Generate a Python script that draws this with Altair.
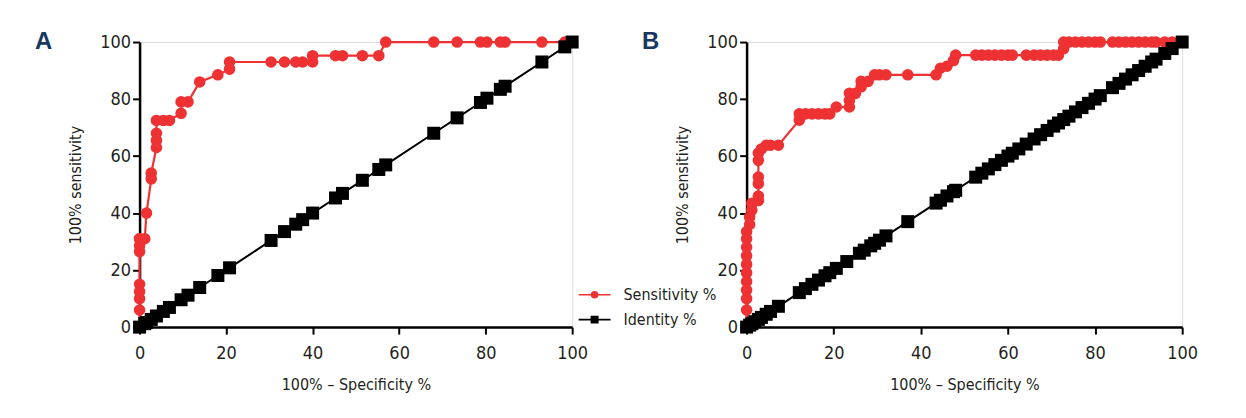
import altair as alt
import pandas as pd

# ---------------- data ----------------
SERIES = ["Sensitivity %", "Identity %"]

# Panel A : ROC (x = 100% - specificity %, y = sensitivity %)
a_spec = [0, 0, 0, 0, 0, 0, 0, 0, 0, 1.2, 1.6, 2.7, 2.7, 3.9, 3.9, 3.9, 3.9,
          5.5, 6.9, 9.6, 9.6, 11.2, 13.9, 18.1, 20.8, 20.8, 30.4, 33.5, 36.1,
          37.7, 40.0, 40.0, 45.3, 46.9, 51.5, 55.3, 56.9, 68.0, 73.4, 78.8,
          80.3, 83.4, 84.5, 93.0, 98.3, 100]
a_sens = [0, 6, 10, 12.5, 15, 26.5, 28.5, 31, 31, 31, 40, 52, 54, 63, 65.5,
          68, 72.5, 72.5, 72.5, 75, 79, 79, 86, 88.5, 90.5, 93, 93, 93, 93,
          93, 93, 95.2, 95.2, 95.2, 95.2, 95.2, 100, 100, 100, 100, 100, 100,
          100, 100, 100, 100]
a_ident = [0, 1.2, 1.6, 2.7, 3.9, 5.5, 6.9, 9.6, 11.2, 13.9, 18.1, 20.8, 30.4,
           33.5, 36.1, 37.7, 40.0, 45.3, 46.9, 51.5, 55.3, 56.9, 68.0, 73.4,
           78.8, 80.3, 83.4, 84.5, 93.0, 98.3, 100]

# Panel B
b_spec = [0, 0, 0, 0, 0, 0, 0, 0, 0, 0, 0, 0.7, 0.7, 1.2, 1.2, 2.7, 2.7, 2.7,
          2.7, 2.7, 2.7, 3.4, 4.5, 5.5, 7.3, 12.1, 12.1, 13.5, 15.0, 16.5,
          18.0, 19.1, 20.6, 23.6, 23.6, 23.6, 25.0, 26.3, 26.3, 27.9, 29.4,
          30.5, 32.0, 37.0, 43.5, 44.5, 46.0, 47.5, 48.0, 52.6, 54.0, 55.5,
          57.0, 58.5, 60.0, 61.0, 64.2, 66.0, 67.5, 69.0, 70.5, 71.6, 72.8,
          72.8, 74.0, 75.5, 77.0, 78.5, 80.0, 81.2, 84.0, 85.5, 87.0, 88.5,
          90.0, 91.5, 93.0, 94.0, 96.0, 97.7, 100]
b_sens = [0, 6, 10, 13, 16, 19, 22, 25, 28, 31, 33.5, 36, 38.5, 41, 43.4,
          44.4, 46, 50.3, 52.6, 58.5, 61, 62.5, 63.8, 63.8, 63.8, 72.6, 74.8,
          74.8, 74.8, 74.8, 74.8, 74.8, 77.2, 77.2, 79.5, 82, 82, 84.3, 86.2,
          86.2, 88.5, 88.5, 88.5, 88.5, 88.5, 90.8, 91.5, 93.5, 95.4, 95.4,
          95.4, 95.4, 95.4, 95.4, 95.4, 95.4, 95.4, 95.4, 95.4, 95.4, 95.4,
          95.4, 97.7, 100, 100, 100, 100, 100, 100, 100, 100, 100, 100, 100,
          100, 100, 100, 100, 100, 100, 100]
b_ident = [0, 0.7, 1.2, 1.9, 2.7, 3.4, 4.5, 5.5, 7.3, 12.1, 13.5, 15.0, 16.5,
           18.0, 19.1, 20.6, 23.0, 25.9, 27.0, 28.5, 29.4, 30.5, 32.0, 37.0,
           43.5, 44.5, 46.0, 47.5, 48.0, 52.6, 54.0, 55.5, 57.0, 58.5, 60.0,
           61.0, 62.5, 64.2, 66.0, 67.5, 69.0, 70.5, 71.6, 72.8, 74.0, 75.5,
           77.0, 78.5, 80.0, 81.2, 84.0, 85.5, 87.0, 88.5, 90.0, 91.5, 93.0,
           94.0, 96.0, 97.7, 100]

# ---------------- styling ----------------
RED = "#ee3233"
BLACK = "#000000"
NAVY = "#17375e"
TXT = "#231f20"
FONT = "Liberation Sans Narrow, DejaVu Sans Condensed, Arial Narrow, sans-serif"
TICKS = [0, 20, 40, 60, 80, 100]

LEG_CIRCLE = "M-1.6,0H1.6M-0.3,0A0.3,0.3,0,1,1,0.3,0A0.3,0.3,0,1,1,-0.3,0Z"
LEG_SQUARE = "M-1.6,0H1.6M-0.32,-0.32H0.32V0.32H-0.32Z"


def axis_common(title, tpad, lpad):
    return dict(title=title, values=TICKS, tickSize=7, tickWidth=2,
                domainWidth=2.5, domainColor=BLACK, tickColor=BLACK,
                labelFont=FONT, labelFontSize=18, labelColor=TXT,
                labelFlush=False, labelOverlap=False,
                titleFont=FONT, titleFontSize=16, titleFontWeight="normal",
                titleColor=TXT, titlePadding=tpad, grid=False,
                labelPadding=lpad)


def panel(spec, sens, ident, letter, width, with_legend):
    sens_df = pd.DataFrame({"x": spec, "y": sens, "i": range(len(spec))})
    id_df = pd.DataFrame({"x": ident, "y": ident, "i": range(len(ident))})
    xenc = alt.X("x:Q", scale=alt.Scale(domain=[0, 100], nice=False),
                 axis=alt.Axis(**axis_common("100% – Specificity %", 14.5, 10)))
    yenc = alt.Y("y:Q", scale=alt.Scale(domain=[0, 100], nice=False),
                 axis=alt.Axis(**axis_common("100% sensitivity", 16, 2)))

    red_line = alt.Chart(sens_df).mark_line(color=RED, strokeWidth=2.2).encode(
        x=xenc, y=yenc, order="i:Q")
    red_pts = alt.Chart(sens_df).mark_point(
        shape="circle", filled=True, color=RED, size=135, opacity=1).encode(
        x="x:Q", y="y:Q")
    blk_line = alt.Chart(id_df).mark_line(color=BLACK, strokeWidth=2).encode(
        x="x:Q", y="y:Q", order="i:Q")
    blk_pts = alt.Chart(id_df).mark_point(
        shape="square", filled=True, color=BLACK, size=170, opacity=1).encode(
        x="x:Q", y="y:Q")

    layers = [red_line, red_pts, blk_line, blk_pts]

    if with_legend:
        leg = alt.Legend(title=None, orient="none", legendX=445.5, legendY=242.5,
                         labelFont=FONT, labelFontSize=16, labelColor=TXT,
                         symbolSize=400, symbolStrokeWidth=1.6,
                         labelOffset=18, rowPadding=6, symbolOpacity=1)
        leg_df = pd.DataFrame({"series": SERIES, "x": [0, 0], "y": [0, 0]})
        legend_layer = alt.Chart(leg_df).mark_point(filled=True).encode(
            x="x:Q", y="y:Q",
            fill=alt.Fill("series:N", scale=alt.Scale(domain=SERIES, range=[RED, BLACK]), legend=leg),
            stroke=alt.Stroke("series:N", scale=alt.Scale(domain=SERIES, range=[RED, BLACK]), legend=leg),
            shape=alt.Shape("series:N", scale=alt.Scale(domain=SERIES, range=[LEG_CIRCLE, LEG_SQUARE]), legend=leg),
        ).transform_filter("false")
        layers.append(legend_layer)

    return alt.layer(*layers).properties(
        width=width, height=286,
        title=alt.TitleParams(letter, anchor="start", frame="group", dx=-105,
                              dy=40, offset=0, baseline="alphabetic",
                              fontSize=24, fontWeight="bold", color=NAVY,
                              font="Liberation Sans, Arial, sans-serif"))


pa = panel(a_spec, a_sens, a_ident, "A", 434, True)
pb = panel(b_spec, b_sens, b_ident, "B", 437, False)

chart = alt.hconcat(pa, pb, spacing=175, bounds="flush").properties(
    padding={"left": 26, "top": 20.5, "right": 40, "bottom": 10}
).configure_view(stroke=None).configure(background="white")

chart.save("out.html", embed_options={"renderer": "svg", "actions": False})
